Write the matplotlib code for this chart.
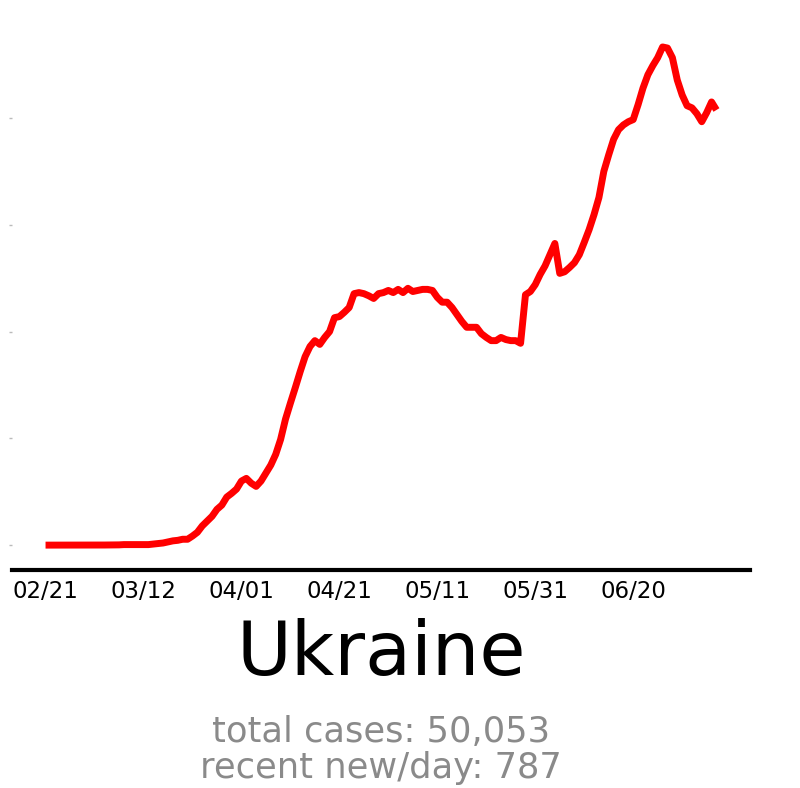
import numpy as np
import pandas as pd
import matplotlib
matplotlib.use('Agg')
import matplotlib.pyplot as plt
import matplotlib.dates as mdates

# 7-day average of new cases per day
country     = 'Ukraine'
total_cases = '50,053'
recent_day  = '787'
start_date  = '2020-02-21'

new_per_day = [
    0, 0, 0, 0, 0, 0, 0, 0, 0, 0,
    0, 0.1, 0.2, 0.3, 0.4, 0.5, 1, 1, 1, 1,
    1, 1, 2, 3, 4, 6, 8, 9, 11, 11,
    17, 24, 36, 45, 54, 67, 75, 90, 97, 105,
    120, 125, 116, 110, 120, 135, 150, 170, 198, 236,
    266, 295, 325, 353, 372, 383, 376, 389, 400, 426,
    428, 436, 445, 471, 473, 471, 467, 462, 471, 473,
    477, 473, 479, 473, 481, 475, 477, 479, 479, 477,
    464, 455, 455, 445, 432, 419, 408, 408, 408, 396,
    389, 383, 383, 389, 385, 383, 383, 378, 469, 475,
    488, 507, 523, 544, 565, 509, 512, 520, 529, 544,
    567, 591, 619, 651, 700, 731, 760, 778, 787, 793,
    797, 825, 856, 881, 898, 913, 933, 931, 913, 871,
    843, 823, 819, 808, 793, 810, 830, 815,
]

dates = pd.date_range(start_date, periods=len(new_per_day), freq='D')
tick_dates = dates[::20]

fig = plt.figure(figsize=(8, 7.88), dpi=100)
ax = fig.add_axes([0.015, 0.2766, 0.9225, 0.6954])

ax.plot(dates, new_per_day, color='red', linewidth=5, solid_capstyle='butt')

for side in ['top', 'right', 'left']:
    ax.spines[side].set_visible(False)
ax.spines['bottom'].set_linewidth(3)
ax.spines['bottom'].set_color('black')

ax.set_xticks(tick_dates)
ax.xaxis.set_major_formatter(mdates.DateFormatter('%m/%d'))
ax.tick_params(axis='x', length=0, pad=7, labelsize=16.5, colors='black')

ax.set_yticks([0, 200, 400, 600, 800])
ax.tick_params(axis='y', length=2, width=1, color='#bbbbbb', labelleft=False)

fig.text(0.476, 0.1434, country, ha='center', va='baseline', fontsize=54, color='black')
fig.text(0.476, 0.0584, f'total cases: {total_cases}', ha='center', va='baseline',
         fontsize=25.4, color='#8a8a8a')
fig.text(0.476, 0.0127, f'recent new/day: {recent_day}', ha='center', va='baseline',
         fontsize=25.4, color='#8a8a8a')

fig.savefig('out.png', dpi=100, facecolor='white')
